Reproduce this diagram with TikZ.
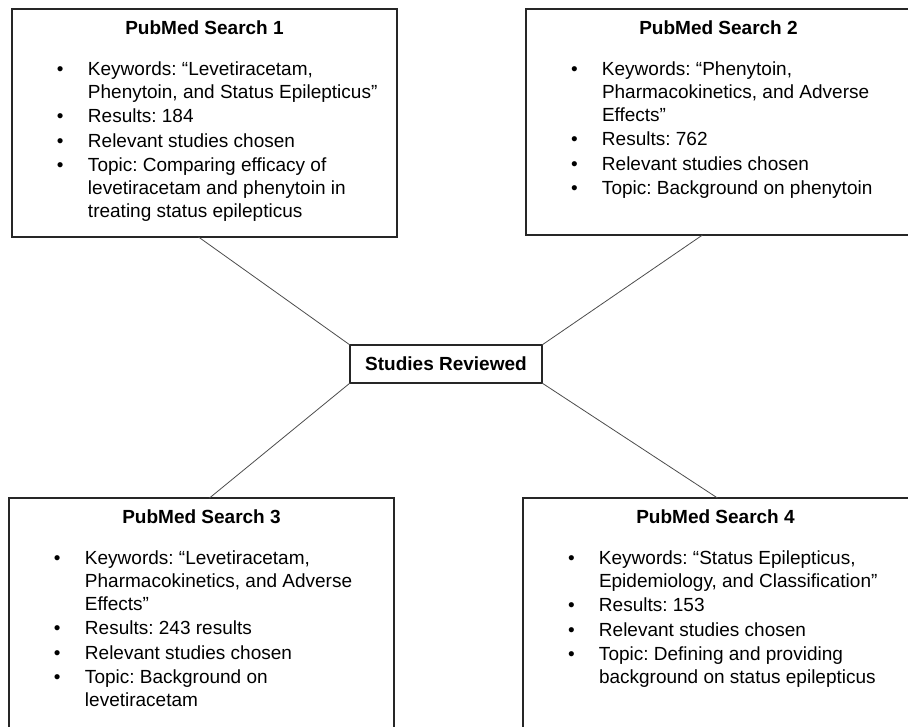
\documentclass[tikz,border=0pt]{standalone}
\usepackage{fontspec}
\setmainfont{Liberation Sans}
\usepackage{tikz}
\frenchspacing
\newcommand{\srchtitle}[1]{{\centering\rule{0pt}{25pt}\textbf{#1}\par}\vspace{16.5pt}}
\newcommand{\srchitem}[1]{\hangindent=76pt\hangafter=1\noindent\hspace*{45pt}\makebox[31pt][l]{\textbullet}#1\par}
\newcommand{\srchbody}[2]{\parbox[t][#1][t]{385pt}{\fontsize{19}{23}\selectfont\raggedright\parskip=1.5pt #2}}
\tikzset{
  srchbox/.style={draw=black!85, line width=1.4pt, inner sep=0pt, outer sep=0pt, anchor=north west},
  hubbox/.style={draw=black!85, line width=1.4pt, inner sep=0pt, outer sep=0pt, minimum width=192pt, minimum height=38pt, font=\fontsize{19}{23}\selectfont\bfseries},
  link/.style={draw=black!70, line width=0.8pt}
}

\begin{document}
\begin{tikzpicture}[x=1pt, y=-1pt]
\useasboundingbox (0,0) rectangle (908,726);
\node[hubbox] (hub) at (446,364) {Studies Reviewed};
\node[srchbox] (s1) at (12,9) {\srchbody{228pt}{%
  \srchtitle{PubMed Search 1}
  \srchitem{Keywords: ``Levetiracetam,\newline Phenytoin, and Status Epilepticus''}
  \srchitem{Results: 184}
  \srchitem{Relevant studies chosen}
  \srchitem{Topic: Comparing efficacy of\newline levetiracetam and phenytoin in\newline treating status epilepticus}}};
% right-hand boxes run past the page edge
\node[srchbox] (s2) at (526,9) {\srchbody{226pt}{%
  \srchtitle{PubMed Search 2}
  \srchitem{Keywords: ``Phenytoin,\newline Pharmacokinetics, and Adverse\newline Effects''}
  \srchitem{Results: 762}
  \srchitem{Relevant studies chosen}
  \srchitem{Topic: Background on phenytoin}}\hspace*{20pt}};
\node[srchbox] (s3) at (9,498) {\srchbody{250pt}{%
  \srchtitle{PubMed Search 3}
  \srchitem{Keywords: ``Levetiracetam,\newline Pharmacokinetics, and Adverse\newline Effects''}
  \srchitem{Results: 243 results}
  \srchitem{Relevant studies chosen}
  \srchitem{Topic: Background on\newline levetiracetam}}};
\node[srchbox] (s4) at (523,498) {\srchbody{250pt}{%
  \srchtitle{PubMed Search 4}
  \srchitem{Keywords: ``Status Epilepticus,\newline Epidemiology, and Classification''}
  \srchitem{Results: 153}
  \srchitem{Relevant studies chosen}
  \srchitem{Topic: Defining and providing\newline background on status epilepticus}}\hspace*{20pt}};
% spokes to the hub corners
\draw[link] ([xshift=-6pt]s1.south) -- (hub.north west);
\draw[link] ([xshift=-26pt]s2.south) -- (hub.north east);
\draw[link] ([xshift=8pt]s3.north) -- (hub.south west);
\draw[link] ([xshift=-8pt]s4.north) -- (hub.south east);
\end{tikzpicture}
\end{document}
